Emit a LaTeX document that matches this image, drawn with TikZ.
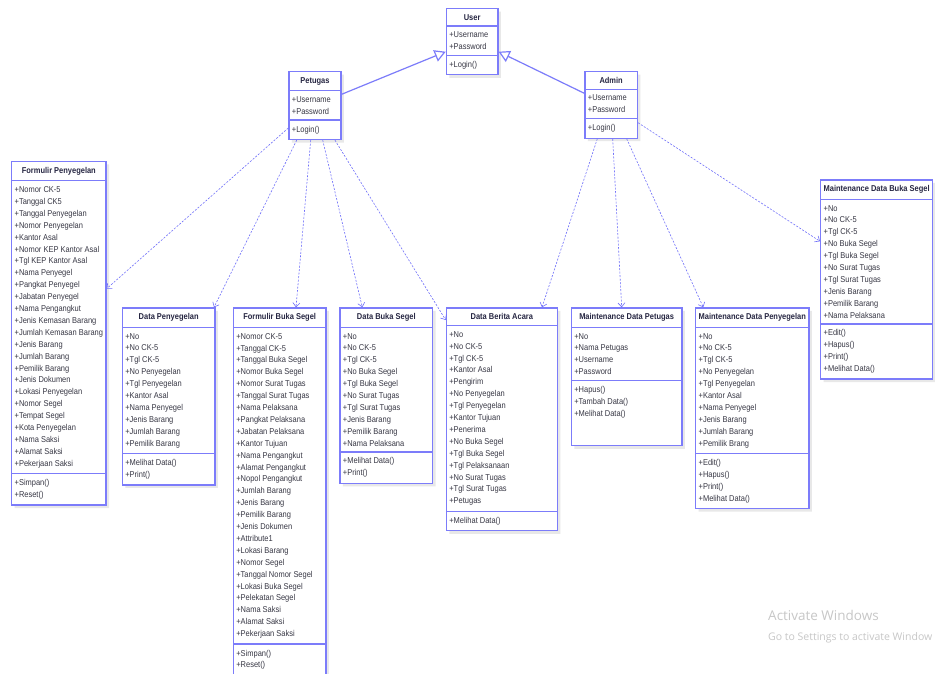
\documentclass[tikz,border=0pt]{standalone}
\usepackage{fontspec}
\setmainfont[FakeStretch=0.88]{Liberation Sans}
\newfontfamily\winfont{Open Sans}
\usepackage{xcolor}
\usetikzlibrary{positioning,calc,arrows.meta,shapes.multipart,shadows}

\definecolor{classline}{RGB}{124,124,250}
\definecolor{linkline}{RGB}{112,112,250}
\definecolor{attrtext}{RGB}{55,55,68}
\definecolor{titletext}{RGB}{38,38,66}

\newcommand{\classfont}{\fontsize{8.5}{11.9}\selectfont}
\newcommand{\ctitle}[1]{\textbf{\color{titletext}#1}}

\tikzset{
	umlclass/.style={rectangle split, rectangle split parts=3, rectangle split part align={center,left,left},
		draw=classline, line width=1.3pt, fill=white, anchor=north west, align=left,
		inner xsep=3pt, inner ysep=5.1pt, font=\classfont, text=attrtext,
		drop shadow={shadow xshift=3pt, shadow yshift=-3pt, fill=black!9, opacity=1}},
	depend/.style={draw=linkline, line width=0.6pt, dash pattern=on 2pt off 1.5pt, -{Straight Barb[length=4pt,width=7pt]}},
	inherit/.style={draw=classline, line width=1.2pt, -{Triangle[open,fill=white,length=11pt,width=12pt]}},
	watermark/.style={text=black!22, anchor=base west, inner sep=0pt},
}

\begin{document}
\begin{tikzpicture}[x=1pt,y=-1pt]
						\useasboundingbox[fill=white] (0,0) rectangle (935,673);

						\node[umlclass, minimum width=51.6pt] (user) at (445.7,8) {\ctitle{User}\nodepart{second}+Username\\+Password\nodepart{third}+Login()};
						\node[umlclass, minimum width=52pt] (petugas) at (288.3,71) {\ctitle{Petugas}\nodepart{second}+Username\\+Password\nodepart{third}+Login()};
						\node[umlclass, minimum width=52.4pt] (admin) at (584.3,71) {\ctitle{Admin}\nodepart{second}+Username\\+Password\nodepart{third}+Login()};

						\node[umlclass, minimum width=94pt] (formp) at (11,160.7) {\ctitle{Formulir Penyegelan}\nodepart{second}+Nomor CK-5\\+Tanggal CK5\\+Tanggal Penyegelan\\+Nomor Penyegelan\\+Kantor Asal\\+Nomor KEP Kantor Asal\\+Tgl KEP Kantor Asal\\+Nama Penyegel\\+Pangkat Penyegel\\+Jabatan Penyegel\\+Nama Pengangkut\\+Jenis Kemasan Barang\\+Jumlah Kemasan Barang\\+Jenis Barang\\+Jumlah Barang\\+Pemilik Barang\\+Jenis Dokumen\\+Lokasi Penyegelan\\+Nomor Segel\\+Tempat Segel\\+Kota Penyegelan\\+Nama Saksi\\+Alamat Saksi\\+Pekerjaan Saksi\nodepart{third}+Simpan()\\+Reset()};

						\node[umlclass, minimum width=92.6pt] (datap) at (121.7,307.3) {\ctitle{Data Penyegelan}\nodepart{second}+No\\+No CK-5\\+Tgl CK-5\\+No Penyegelan\\+Tgl Penyegelan\\+Kantor Asal\\+Nama Penyegel\\+Jenis Barang\\+Jumlah Barang\\+Pemilik Barang\nodepart{third}+Melihat Data()\\+Print()};

						\node[umlclass, minimum width=92.6pt] (formbs) at (232.7,307.3) {\ctitle{Formulir Buka Segel}\nodepart{second}+Nomor CK-5\\+Tanggal CK-5\\+Tanggal Buka Segel\\+Nomor Buka Segel\\+Nomor Surat Tugas\\+Tanggal Surat Tugas\\+Nama Pelaksana\\+Pangkat Pelaksana\\+Jabatan Pelaksana\\+Kantor Tujuan\\+Nama Pengangkut\\+Alamat Pengangkut\\+Nopol Pengangkut\\+Jumlah Barang\\+Jenis Barang\\+Pemilik Barang\\+Jenis Dokumen\\+Attribute1\\+Lokasi Barang\\+Nomor Segel\\+Tanggal Nomor Segel\\+Lokasi Buka Segel\\+Pelekatan Segel\\+Nama Saksi\\+Alamat Saksi\\+Pekerjaan Saksi\nodepart{third}+Simpan()\\+Reset()};

						\node[umlclass, minimum width=92.7pt] (databs) at (339.3,307.3) {\ctitle{Data Buka Segel}\nodepart{second}+No\\+No CK-5\\+Tgl CK-5\\+No Buka Segel\\+Tgl Buka Segel\\+No Surat Tugas\\+Tgl Surat Tugas\\+Jenis Barang\\+Pemilik Barang\\+Nama Pelaksana\nodepart{third}+Melihat Data()\\+Print()};

						\node[umlclass, minimum width=111pt] (databa) at (445.7,307.3) {\ctitle{Data Berita Acara}\nodepart{second}+No\\+No CK-5\\+Tgl CK-5\\+Kantor Asal\\+Pengirim\\+No Penyegelan\\+Tgl Penyegelan\\+Kantor Tujuan\\+Penerima\\+No Buka Segel\\+Tgl Buka Segel\\+Tgl Pelaksanaan\\+No Surat Tugas\\+Tgl Surat Tugas\\+Petugas\nodepart{third}+Melihat Data()};

						\node[umlclass, minimum width=110.6pt] (mpetugas) at (570.7,307.3) {\ctitle{Maintenance Data Petugas}\nodepart{second}+No\\+Nama Petugas\\+Username\\+Password\nodepart{third}+Hapus()\\+Tambah Data()\\+Melihat Data()\\ \mbox{}\\ \mbox{}\rule{0pt}{4pt}};

						\node[umlclass, minimum width=113.3pt] (mpenyegelan) at (695,307.3) {\ctitle{Maintenance Data Penyegelan}\nodepart{second}+No\\+No CK-5\\+Tgl CK-5\\+No Penyegelan\\+Tgl Penyegelan\\+Kantor Asal\\+Nama Penyegel\\+Jenis Barang\\+Jumlah Barang\\+Pemilik Brang\nodepart{third}+Edit()\\+Hapus()\\+Print()\\+Melihat Data()};

						\node[umlclass, minimum width=110.7pt] (mbukasegel) at (820,179.3) {\ctitle{Maintenance Data Buka Segel}\nodepart{second}+No\\+No CK-5\\+Tgl CK-5\\+No Buka Segel\\+Tgl Buka Segel\\+No Surat Tugas\\+Tgl Surat Tugas\\+Jenis Barang\\+Pemilik Barang\\+Nama Pelaksana\nodepart{third}+Edit()\\+Hapus()\\+Print()\\+Melihat Data()};

						\draw[inherit] ($(petugas.north east)+(0,23.3)$) -- ($(user.north west)+(0,43.7)$);
						\draw[inherit] ($(admin.north west)+(0,22.3)$) -- ($(user.north east)+(0,43.7)$);

						\draw[depend] ($(petugas.north west)+(0,57)$) -- ($(formp.north east)+(0,128)$);
						\draw[depend] ($(petugas.south west)+(8.4,0)$) -- ($(datap.north east)+(-1.6,0)$);
						\draw[depend] ($(petugas.south west)+(22.4,0)$) -- ($(formbs.north west)+(63.3,0)$);
						\draw[depend] ($(petugas.south west)+(34.4,0)$) -- ($(databs.north west)+(23,0)$);
						\draw[depend] ($(petugas.south west)+(46.7,0)$) -- ($(databa.north west)+(0,12.7)$);

						\draw[depend] ($(admin.south west)+(13,0)$) -- ($(databa.north east)+(-16,0)$);
						\draw[depend] ($(admin.south west)+(28.4,0)$) -- ($(mpetugas.north west)+(51,0)$);
						\draw[depend] ($(admin.south west)+(42.4,0)$) -- ($(mpenyegelan.north west)+(8.3,0)$);
						\draw[depend] ($(admin.north east)+(0,51.7)$) -- ($(mbukasegel.north west)+(0,62)$);

						\node[watermark, font=\winfont\fontsize{13.5}{16}\selectfont] (actwin) at (768,620) {Activate Windows};
						\node[watermark, font=\winfont\fontsize{10.5}{12}\selectfont] (actgo) at (768,640) {Go to Settings to activate Window};
					\end{tikzpicture}
\end{document}
